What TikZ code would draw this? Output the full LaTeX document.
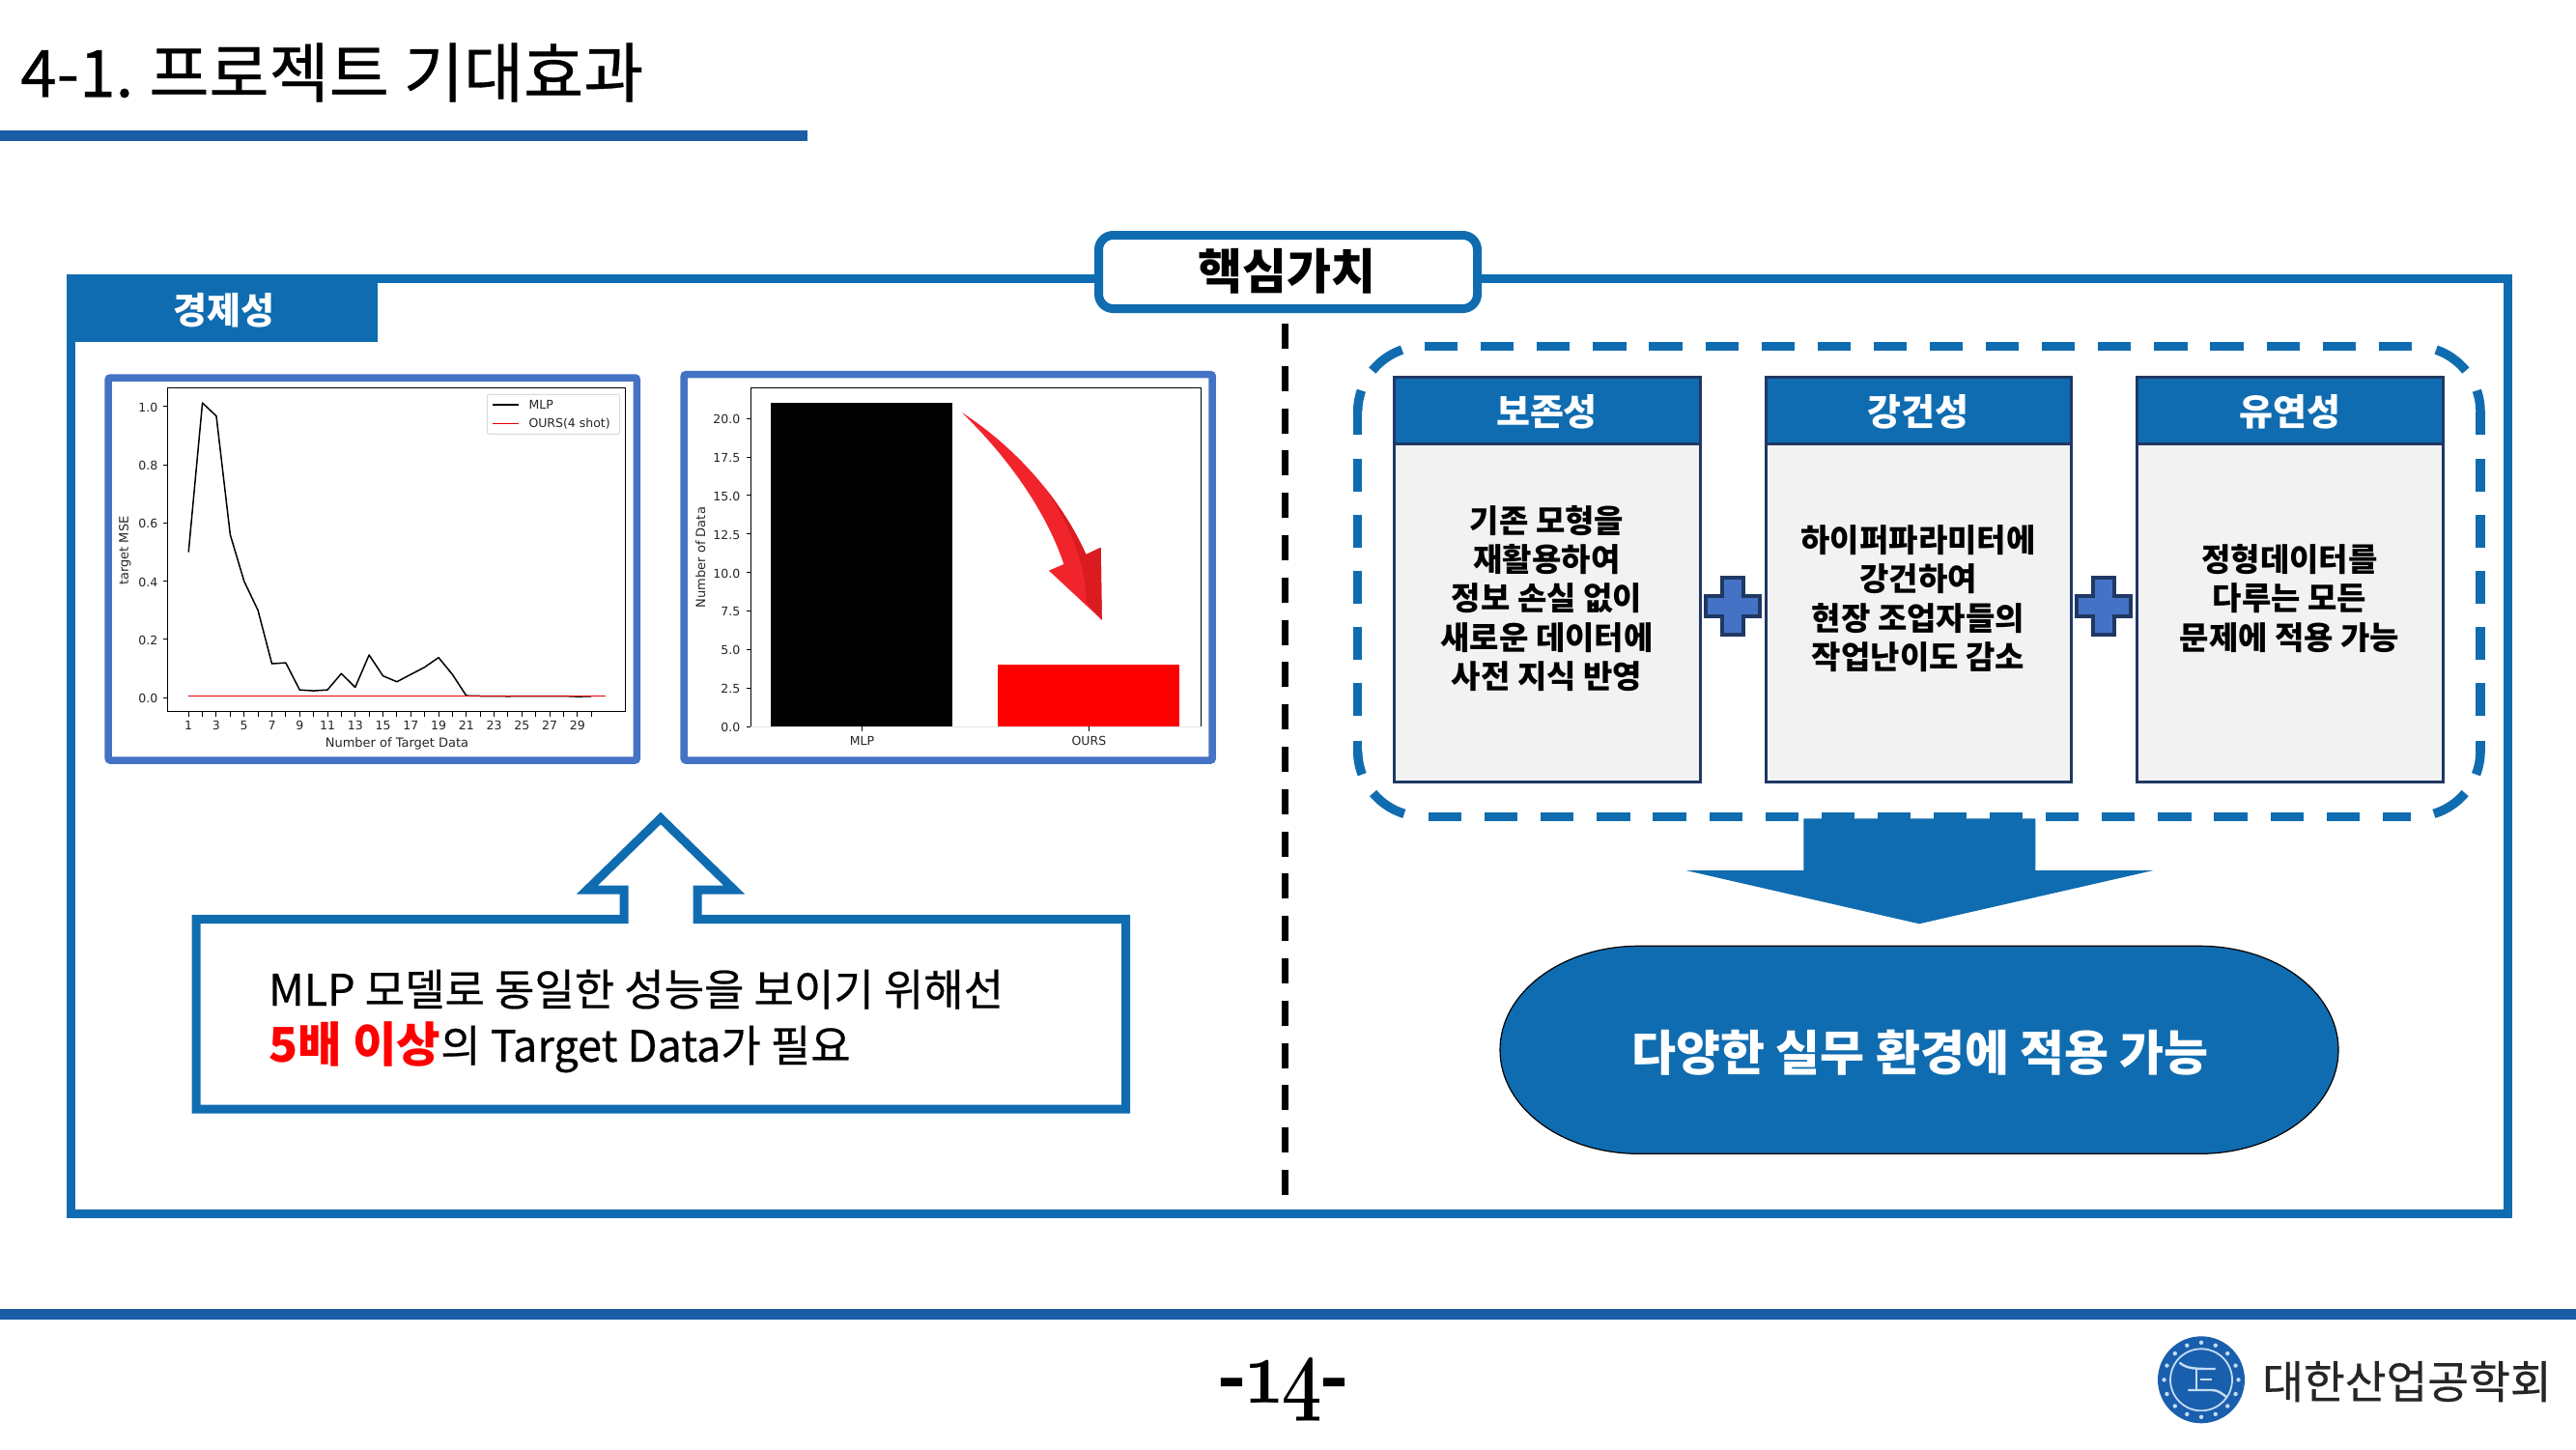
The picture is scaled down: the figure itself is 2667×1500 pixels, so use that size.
\documentclass[tikz,border=0pt]{standalone}
\usepackage{fontspec}
\setmainfont{Noto Sans CJK KR}
\newfontfamily\medfont[FakeBold=0.5]{Noto Sans CJK KR}
\newfontfamily\chartfont{DejaVu Sans}
\newfontfamily\pagefont[Numbers=OldStyle]{Latin Modern Roman}
\definecolor{mainblue}{HTML}{106CB0}
\definecolor{rulecolor}{HTML}{1A5CA5}
\definecolor{chartframe}{HTML}{4472C4}
\definecolor{navy}{HTML}{1F3864}
\definecolor{cardgray}{HTML}{F2F2F2}
\definecolor{arrowlight}{HTML}{F2242B}
\definecolor{arrowdark}{HTML}{DA1C20}
\definecolor{logoblue}{HTML}{1A5FAE}
\definecolor{logolight}{HTML}{C4DCF2}
\newcommand{\fs}[2]{\fontsize{#1}{#2}\selectfont}
% one dash of a rounded corner: centre x, centre y, side (1 left, -1 mirrored), from angle, to angle
\newcommand{\cornerpiece}[5]{\draw[groupdash] plot[domain=#4:#5,samples=12,smooth] ({1986.85+#3*(#1-1986.85-68*cos(\x)*-1)},{#2-68*sin(\x)});}
\tikzset{
  frameline/.style={draw=mainblue,line width=9pt,miter limit=10},
  chartbox/.style={draw=chartframe,line width=7.5pt,fill=white,rounded corners=2pt},
  axisline/.style={draw=black,line width=1.3pt},
  tickline/.style={draw=black,line width=1pt},
  ticklabel/.style={font=\chartfont\fs{12.5}{15},inner sep=0pt,text=black!85},
  cardhead/.style={fill=mainblue,draw=navy,line width=3pt},
  cardbody/.style={fill=cardgray,draw=navy,line width=3pt},
  headtext/.style={font=\bfseries\fs{38}{46},text=white,inner sep=0pt},
  bodytext/.style={font=\bfseries\fs{33}{40.3},text=black,align=center,inner sep=0pt},
  plusmark/.style={fill=chartframe,draw=navy,line width=4pt},
  groupdash/.style={draw=mainblue,line width=9.5pt},
  sidedash/.style={groupdash,dash pattern=on 34.2pt off 23.9pt},
}
\begin{document}
\begin{tikzpicture}[x=1pt,y=-1pt]
\useasboundingbox (0,0) rectangle (2667,1500);
% header
\node[anchor=west,inner sep=0pt,font=\medfont\fs{67.5}{80}] (title) at (21,75) {4-1.\hspace{-0.06em} 프로젝트 기대효과};
\fill[rulecolor] (0,135) rectangle (836,146);
% main frame
\draw[frameline] (73,288.3) rectangle (2596,1256.5);
\fill[mainblue] (69,284) rectangle (391,353.7);
\node[font=\bfseries\fs{38}{46},text=white,inner sep=0pt] (econ) at (232,321) {경제성};
% core value tag
\draw[frameline,fill=white,rounded corners=15pt] (1137.5,243.5) rectangle (1529.5,319.5);
\node[font=\bfseries\fs{50}{58},inner sep=0pt] (core) at (1332,281) {핵심가치};
% divider
\draw[black,line width=7.3pt,dash pattern=on 26pt off 17.8pt] (1330.3,335) -- (1330.3,1237);
% ---------- chart 1
\draw[chartbox] (112.2,391) rectangle (659.3,787);
\draw[axisline] (173.4,401.7) rectangle (647.6,736.7);
\foreach \n in {1,...,30}{
  \pgfmathsetmacro\xx{195.2+14.38*(\n-1)}
  \draw[tickline] (\xx,736.7) -- (\xx,741.5);
}
\foreach \n in {1,3,...,29}{
  \pgfmathsetmacro\xx{195.2+14.38*(\n-1)}
  \node[ticklabel] (xt\n) at (\xx,751) {\n};
}
\foreach \v/\t in {0/0.0,0.2/0.2,0.4/0.4,0.6/0.6,0.8/0.8,1/1.0}{
  \pgfmathsetmacro\yy{722.3-301.6*\v}
  \draw[tickline] (173.4,\yy) -- (168.6,\yy);
  \node[ticklabel,anchor=east] at (163.5,\yy+1) {\t};
}
\node[ticklabel,font=\chartfont\fs{13}{15}] (xlab1) at (411,769.5) {Number of Target Data};
\node[ticklabel,font=\chartfont\fs{13}{15},rotate=90] (ylab1) at (129.5,570) {target MSE};
\begin{scope}[shift={(180.82,722.3)},x=14.38pt,y=301.6pt]
  \draw[black,line width=1.5pt,line join=round] plot coordinates {(1,.5)(2,1.012)(3,.967)(4,.56)(5,.4)(6,.3)(7,.117)(8,.12)(9,.027)(10,.024)(11,.027)(12,.083)(13,.036)(14,.147)(15,.075)(16,.055)(17,.08)(18,.105)(19,.138)(20,.08)(21,.007)(22,.006)(23,.006)(24,.005)(25,.006)(26,.006)(27,.006)(28,.006)(29,.004)(30,.005)};
  \draw[red!90!black,line width=1.4pt] (1,.006) -- (31,.006);
\end{scope}
\draw[black!15,line width=1pt,fill=white,rounded corners=2pt] (504.5,408.3) rectangle (641.5,449.3);
\draw[black,line width=1.8pt] (509.8,419) -- (537,419);
\draw[red!90!black,line width=1.4pt] (509.8,438.3) -- (537,438.3);
\node[ticklabel,anchor=west] (lg1) at (547.3,419) {MLP};
\node[ticklabel,anchor=west] (lg2) at (547.3,438.3) {OURS(4 shot)};
% ---------- chart 2
\draw[chartbox] (708.2,387.7) rectangle (1255.2,787);
\fill[black] (797.9,417) rectangle (986.2,752);
\fill[red] (1032.9,688) rectangle (1221.2,752);
\draw[axisline] (777.3,752) -- (777.3,401.7) -- (1243.8,401.7) -- (1243.8,752);
\draw[black!10,line width=1pt] (777.3,752) -- (1243.8,752);
\foreach \v/\t in {0/0.0,1/2.5,2/5.0,3/7.5,4/10.0,5/12.5,6/15.0,7/17.5,8/20.0}{
  \pgfmathsetmacro\yy{752-39.84*\v}
  \draw[tickline] (777.3,\yy) -- (772.5,\yy);
  \node[ticklabel,anchor=east] at (766.5,\yy+1) {\t};
}
\draw[tickline] (892.4,752) -- (892.4,756.8);
\draw[tickline] (1127.4,752) -- (1127.4,756.8);
\node[ticklabel] (bar1) at (892.4,767) {MLP};
\node[ticklabel] (bar2) at (1127.4,767) {OURS};
\node[ticklabel,font=\chartfont\fs{13}{15},rotate=90] (ylab2) at (725.2,577) {Number of Data};
% red curved arrow
\def\curvedarrow{(996.2,427.3) .. controls (1050,462) and (1098,515) .. (1124.4,574) -- (1139.7,566.7) -- (1140.8,641.7) -- (1086,590.7) -- (1101.4,584) .. controls (1085,535) and (1050,480) .. cycle}
\fill[arrowlight] \curvedarrow;
\begin{scope}
  \clip \curvedarrow;
  \fill[arrowdark] (1040,445) .. controls (1080,500) and (1125,560) .. (1124.4,623) -- (1141,642) -- (1175,642) -- (1175,445) -- cycle;
\end{scope}
% ---------- callout
\draw[frameline,fill=white] (203,951.5) -- (646,951.5) -- (646,921) -- (608,921) -- (684,847) -- (760,921) -- (722,921) -- (722,951.5) -- (1165.5,951.5) -- (1165.5,1148) -- (203,1148) -- cycle;
\node[anchor=base west,inner sep=0pt,font=\medfont\fs{45}{54}] (line1) at (278,1041) {MLP 모델로 동일한 성능을 보이기 위해선};
\node[anchor=base west,inner sep=0pt,font=\medfont\fs{45}{54}] (line2) at (278,1099) {\textcolor{red}{\normalfont\bfseries\fs{49.5}{54}5배 이상}의 Target Data가 필요};
% ---------- dashed group
\draw[sidedash] (1475,358.4) -- (2498,358.4);
\draw[sidedash] (1479,845.3) -- (2496,845.3);
\draw[sidedash] (1405.7,474.7) -- (1405.7,743);
\draw[sidedash] (2568,474.7) -- (2568,743);
\foreach \sd/\mx in {1/1405.7,-1/2568}{
  % top corner
  \cornerpiece{1473.7}{426.4}{\sd}{109}{141}
  \cornerpiece{1473.7}{426.4}{\sd}{161}{180}
  \draw[groupdash] (\mx,426) -- (\mx,450);
  % bottom corner
  \draw[groupdash] (\mx,766.5) -- (\mx,778);
  \cornerpiece{1473.7}{777.3}{\sd}{180}{201}
  \cornerpiece{1473.7}{777.3}{\sd}{220}{253}
}
% cards
\foreach \cx/\xa/\xb/\nm/\hd in {1601.5/1443/1760/a/보존성,1986/1828/2144/b/강건성,2370.5/2212/2529/c/유연성}{
  \draw[cardbody] (\xa,459) rectangle (\xb,809);
  \draw[cardhead] (\xa,390) rectangle (\xb,459);
  \node[headtext] (head\nm) at (\cx,426) {\hd};
}
\node[bodytext] (bodya) at (1601.5,619.5) {기존 모형을\\재활용하여\\정보 손실 없이\\새로운 데이터에\\사전 지식 반영};
\node[bodytext] (bodyb) at (1986,619.5) {하이퍼파라미터에\\강건하여\\현장 조업자들의\\작업난이도 감소};
\node[bodytext] (bodyc) at (2370.5,619.5) {정형데이터를\\다루는 모든\\문제에 적용 가능};
% plus signs
\foreach \px in {1794,2178}{
  \draw[plusmark] (\px-11,597.5) -- (\px+11,597.5) -- (\px+11,616.5) -- (\px+28,616.5) -- (\px+28,637.5) -- (\px+11,637.5) -- (\px+11,656.5) -- (\px-11,656.5) -- (\px-11,637.5) -- (\px-28,637.5) -- (\px-28,616.5) -- (\px-11,616.5) -- cycle;
}
% down arrow
\fill[mainblue] (1867.4,847.3) -- (2107.4,847.3) -- (2107.4,901) -- (2229.5,901) -- (1987,956.3) -- (1745.3,901) -- (1867.4,901) -- cycle;
% pill
\draw[fill=mainblue,draw=black,line width=1.2pt] (1696.5,979.3) -- (2277.5,979.3) .. controls (2356.8,979.3) and (2421,1027.4) .. (2421,1086.8) .. controls (2421,1146.2) and (2356.8,1194.3) .. (2277.5,1194.3) -- (1696.5,1194.3) .. controls (1617.2,1194.3) and (1553,1146.2) .. (1553,1086.8) .. controls (1553,1027.4) and (1617.2,979.3) .. (1696.5,979.3) -- cycle;
\node[font=\bfseries\fs{50}{60},text=white,inner sep=0pt] (pilltext) at (1988,1090) {다양한 실무 환경에 적용 가능};
% footer
\fill[rulecolor] (0,1355) rectangle (2667,1366);
\node[anchor=base,inner sep=0pt,xscale=0.77,font=\pagefont\bfseries\fs{96}{110}] (pageno) at (1330.5,1452) {-14-};
% logo
\fill[logoblue] (2279,1428.3) circle (45);
\draw[logolight,line width=1.8pt] (2279,1428.3) circle (32);
\foreach \a in {0,22.5,...,337.5}{
  \fill[logolight] ({2279+38.5*cos(\a)},{1428.3+38.5*sin(\a)}) circle (2.2);
}
\draw[logolight,line width=2.4pt,line cap=round] (2257,1411) .. controls (2265,1417) and (2272,1417) .. (2293,1417);
\draw[logolight,line width=2.4pt] (2274,1417) -- (2274,1439);
\draw[logolight,line width=2pt] (2278,1428) -- (2290,1428);
\draw[logolight,line width=2.4pt,line cap=round] (2266,1439) -- (2290,1439) .. controls (2296,1439) and (2300,1442) .. (2305,1446);
\node[anchor=west,inner sep=0pt,font=\medfont\fs{46.5}{54},text=black!85] (society) at (2342,1430) {대한산업공학회};
\end{tikzpicture}
\end{document}
